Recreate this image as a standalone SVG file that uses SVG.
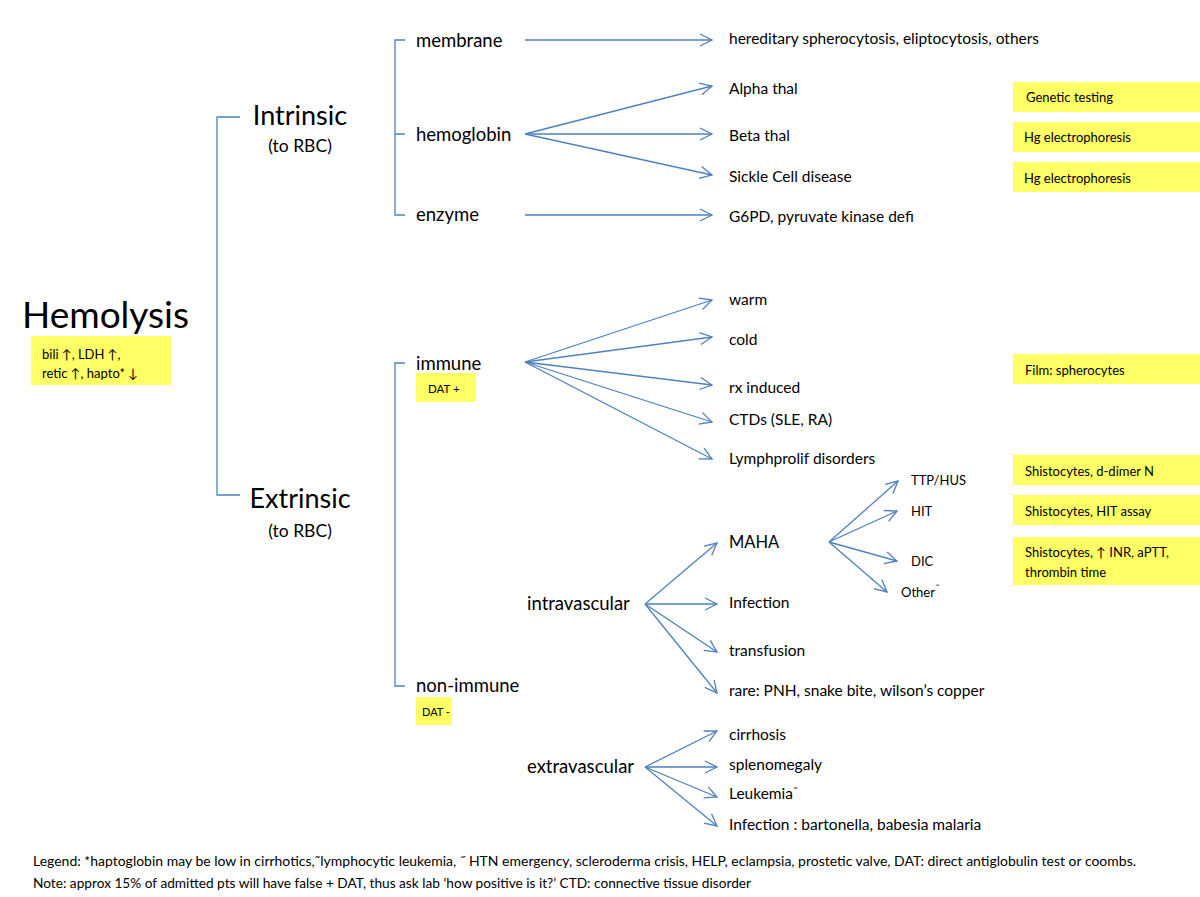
<svg xmlns="http://www.w3.org/2000/svg" width="1200" height="897" viewBox="0 0 1200 897">
<style>
text{font-family:Lato,"Liberation Sans",sans-serif;fill:#000}
.c{stroke:#4f81bd;stroke-width:1.3;fill:none}
.a{stroke:#4f81bd;stroke-width:1.3;fill:none;marker-end:url(#ah)}
.y{fill:#ffff66}
.t1{font-size:18.5px}
.t2{font-size:15.5px}
.t3{font-size:13px}
.t4{font-size:11.5px}
.tl{font-family:"DejaVu Sans",sans-serif}
</style>
<defs>
<marker id="ah" markerUnits="userSpaceOnUse" markerWidth="14" markerHeight="14" refX="12" refY="6" orient="auto" overflow="visible">
<path d="M0,0 L12,6 L0,12" fill="none" stroke="#4f81bd" stroke-width="1.3"/>
</marker>
</defs>
<rect width="1200" height="897" fill="#fff"/>

<g id="connectors">
<path class="c" d="M240,117 H217 V495 H240"/>
<path class="c" d="M405,40 H395 V215 H405 M395,134 H405"/>
<path class="c" d="M405,363 H395 V686 H405"/>
<line class="a" x1="525" y1="40" x2="712" y2="40"/>
<line class="a" x1="525" y1="134" x2="712" y2="86"/>
<line class="a" x1="525" y1="134" x2="712" y2="134"/>
<line class="a" x1="525" y1="134" x2="712" y2="175"/>
<line class="a" x1="525" y1="215" x2="712" y2="215"/>
<line class="a" x1="525" y1="362" x2="712" y2="300"/>
<line class="a" x1="525" y1="362" x2="712" y2="337"/>
<line class="a" x1="525" y1="362" x2="712" y2="385"/>
<line class="a" x1="525" y1="362" x2="712" y2="422"/>
<line class="a" x1="525" y1="362" x2="712" y2="459"/>
<line class="a" x1="645" y1="604" x2="717" y2="543"/>
<line class="a" x1="645" y1="604" x2="717" y2="604"/>
<line class="a" x1="645" y1="604" x2="717" y2="652"/>
<line class="a" x1="645" y1="604" x2="717" y2="693"/>
<line class="a" x1="829" y1="542" x2="898" y2="481"/>
<line class="a" x1="829" y1="542" x2="897" y2="511"/>
<line class="a" x1="829" y1="542" x2="897" y2="561"/>
<line class="a" x1="829" y1="542" x2="887" y2="592"/>
<line class="a" x1="645" y1="767" x2="717" y2="731"/>
<line class="a" x1="645" y1="767" x2="717" y2="767"/>
<line class="a" x1="645" y1="767" x2="717" y2="797"/>
<line class="a" x1="645" y1="767" x2="717" y2="826"/>
</g>

<g id="hemolysis">
<text x="22" y="328" font-size="37">Hemolysis</text>
<rect class="y" x="31" y="336" width="140" height="49"/>
<text class="t3" x="42" y="359">bili ↑, LDH ↑,</text>
<text class="t3" x="42" y="378">retic ↑, hapto* ↓</text>
</g>

<g id="intrinsic">
<text x="300" y="125" font-size="27" text-anchor="middle">Intrinsic</text>
<text x="300" y="152" font-size="17.5" text-anchor="middle">(to RBC)</text>
</g>
<g id="extrinsic">
<text x="300" y="508" font-size="27" text-anchor="middle">Extrinsic</text>
<text x="300" y="537" font-size="17.5" text-anchor="middle">(to RBC)</text>
</g>

<g id="membrane"><text class="t1" x="416" y="47">membrane</text></g>
<g id="hemoglobin"><text class="t1" x="416" y="141">hemoglobin</text></g>
<g id="enzyme"><text class="t1" x="416" y="221">enzyme</text></g>

<g id="hereditary"><text class="t2" x="729" y="44">hereditary spherocytosis, eliptocytosis, others</text></g>
<g id="alpha"><text class="t2" x="729" y="94">Alpha thal</text></g>
<g id="beta"><text class="t2" x="729" y="141">Beta thal</text></g>
<g id="sickle"><text class="t2" x="729" y="182">Sickle Cell disease</text></g>
<g id="g6pd"><text class="t2" x="729" y="222">G6PD, pyruvate kinase defi</text></g>

<g id="note-genetic"><rect class="y" x="1013" y="82" width="187" height="30"/><text class="t3" x="1026" y="102">Genetic testing</text></g>
<g id="note-hg1"><rect class="y" x="1013" y="122" width="187" height="30"/><text class="t3" x="1024" y="142">Hg electrophoresis</text></g>
<g id="note-hg2"><rect class="y" x="1013" y="162" width="187" height="30"/><text class="t3" x="1024" y="183">Hg electrophoresis</text></g>

<g id="immune">
<text class="t1" x="416" y="370">immune</text>
<rect class="y" x="416" y="373" width="60" height="29"/>
<text class="t4" x="428" y="393">DAT +</text>
</g>
<g id="warm"><text class="t2" x="729" y="305">warm</text></g>
<g id="cold"><text class="t2" x="729" y="345">cold</text></g>
<g id="rx"><text class="t2" x="729" y="393">rx induced</text></g>
<g id="ctds"><text class="t2" x="729" y="425">CTDs (SLE, RA)</text></g>
<g id="lymph"><text class="t2" x="729" y="464">Lymphprolif disorders</text></g>

<g id="note-film"><rect class="y" x="1013" y="354" width="187" height="30"/><text class="t3" x="1025" y="375">Film: spherocytes</text></g>
<g id="note-ddimer"><rect class="y" x="1013" y="455" width="187" height="30"/><text class="t3" x="1025" y="476">Shistocytes, d-dimer N</text></g>
<g id="note-hit"><rect class="y" x="1013" y="495" width="187" height="30"/><text class="t3" x="1025" y="516">Shistocytes, HIT assay</text></g>
<g id="note-dic"><rect class="y" x="1013" y="537" width="187" height="48"/><text class="t3" x="1025" y="557">Shistocytes, ↑ INR, aPTT,</text><text class="t3" x="1025" y="577">thrombin time</text></g>

<g id="nonimmune">
<text class="t1" x="416" y="692">non-immune</text>
<rect class="y" x="416" y="697" width="36" height="28"/>
<text x="422" y="716" font-size="11">DAT -</text>
</g>

<g id="intravascular"><text class="t1" x="527" y="610">intravascular</text></g>
<g id="maha"><text x="729" y="548" font-size="16.5">MAHA</text></g>
<g id="infection1"><text class="t2" x="729" y="608">Infection</text></g>
<g id="transfusion"><text class="t2" x="729" y="656">transfusion</text></g>
<g id="rare"><text class="t2" x="729" y="696">rare: PNH, snake bite, wilson’s copper</text></g>

<g id="ttp"><text class="t3" x="911" y="485">TTP/HUS</text></g>
<g id="hit"><text class="t3" x="911" y="516">HIT</text></g>
<g id="dic"><text class="t3" x="911" y="566">DIC</text></g>
<g id="other"><text class="t3" x="901" y="597">Other<tspan class="tl" font-size="9" dy="-5">˝</tspan></text></g>

<g id="extravascular"><text class="t1" x="527" y="773">extravascular</text></g>
<g id="cirrhosis"><text class="t2" x="729" y="740">cirrhosis</text></g>
<g id="spleno"><text class="t2" x="729" y="770">splenomegaly</text></g>
<g id="leukemia"><text class="t2" x="729" y="799">Leukemia<tspan class="tl" font-size="10" dy="-3">˜</tspan></text></g>
<g id="infection2"><text class="t2" x="729" y="830">Infection : bartonella, babesia malaria</text></g>

<g id="legend">
<text class="t3" x="33" y="866" textLength="1103" lengthAdjust="spacingAndGlyphs">Legend: *haptoglobin may be low in cirrhotics,˜lymphocytic leukemia, ˝ HTN emergency, scleroderma crisis, HELP, eclampsia, prostetic valve, DAT: direct antiglobulin test or coombs.</text>
<text class="t3" x="33" y="888" textLength="718" lengthAdjust="spacingAndGlyphs">Note: approx 15% of admitted pts will have false + DAT, thus ask lab ‘how positive is it?’ CTD: connective tissue disorder</text>
</g>
</svg>
